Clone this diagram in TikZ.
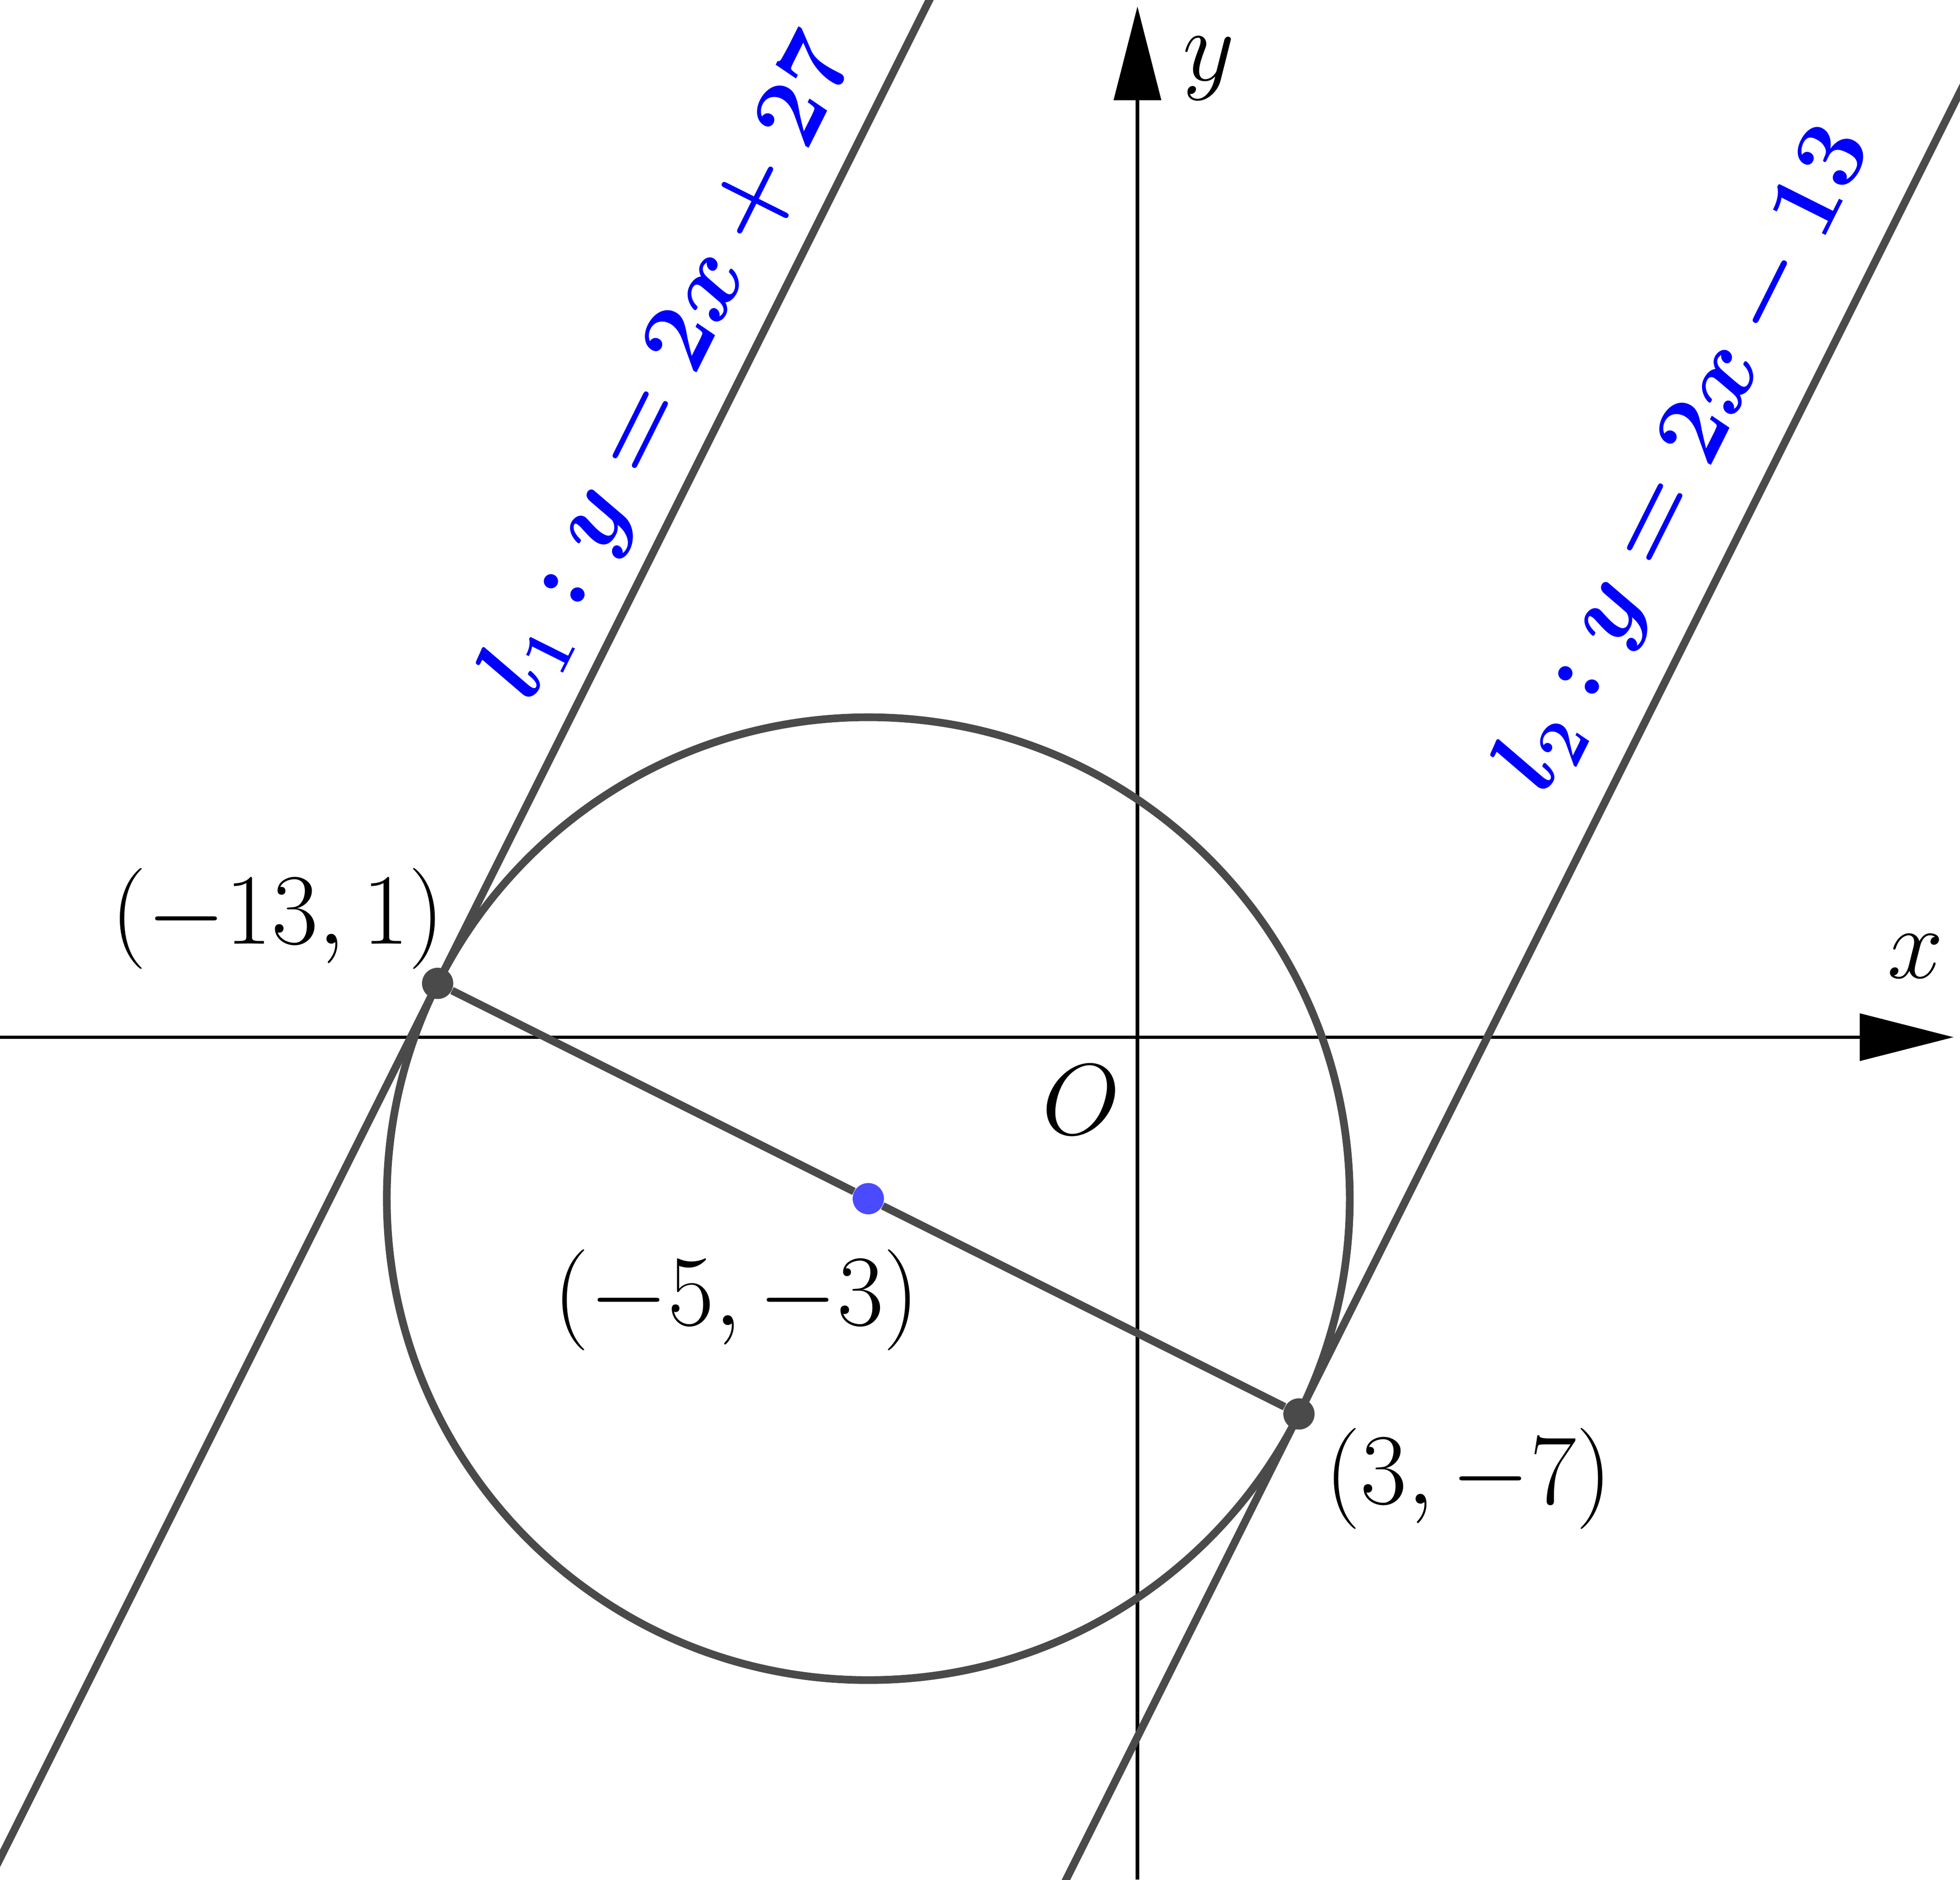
\RequirePackage{fix-cm}
\documentclass[tikz,border=0pt]{standalone}
\usepackage{bm}
\usetikzlibrary{arrows.meta}
\definecolor{gr}{HTML}{4A4A4A}
\definecolor{ptblue}{HTML}{4A4AFF}
\begin{document}
\begin{tikzpicture}[x=0.8614cm,y=0.8614cm,
  curve/.style={draw=gr,line width=3.5pt},
  axis/.style={draw=black,line width=1.5pt,-{Triangle[length=1.5cm,width=0.75cm]}},
  lbl/.style={font=\fontsize{46}{55}\selectfont},
  blbl/.style={font=\fontsize{45}{54}\selectfont,text=blue,rotate=63.43},
  dot/.style={circle,inner sep=0pt,minimum size=0.5cm}]
\useasboundingbox (-21.13,-15.65) rectangle (15.28,19.27);
\draw[axis] (-21.13,0) -- (15.16,0);
\draw[axis] (0,-15.65) -- (0,19.15);
\draw[curve] (-5,-3) circle ({sqrt(80)});
\draw[curve] (-21.39,-15.78) -- (-3.8,19.4);
\draw[curve] (-1.4,-15.8) -- (15.4,17.8);
\node[dot,fill=gr] (A) at (-13,1) {};
\node[dot,fill=gr] (B) at (3,-7) {};
\node[dot,fill=ptblue] (C) at (-5,-3) {};
\draw[curve] (A) -- (C) -- (B);
\node[lbl] (xl) at (14.45,1.5) {$x$};
\node[lbl] (yl) at (1.32,18.0) {$y$};
\node[lbl] (ol) at (-1.05,-1.16) {$O$};
\node[lbl] (al) at (-15.97,2.2) {$(-13,1)$};
\node[lbl] (cl) at (-7.45,-4.88) {$(-5,-3)$};
\node[lbl] (bl) at (6.15,-8.2) {$(3,-7)$};
\node[blbl] (l1) at (-8.65,12.45) {$\bm{l_1 : y=2x+27}$};
\node[blbl] (l2) at (10.2,10.75) {$\bm{l_2 : y=2x-13}$};
\end{tikzpicture}
\end{document}
